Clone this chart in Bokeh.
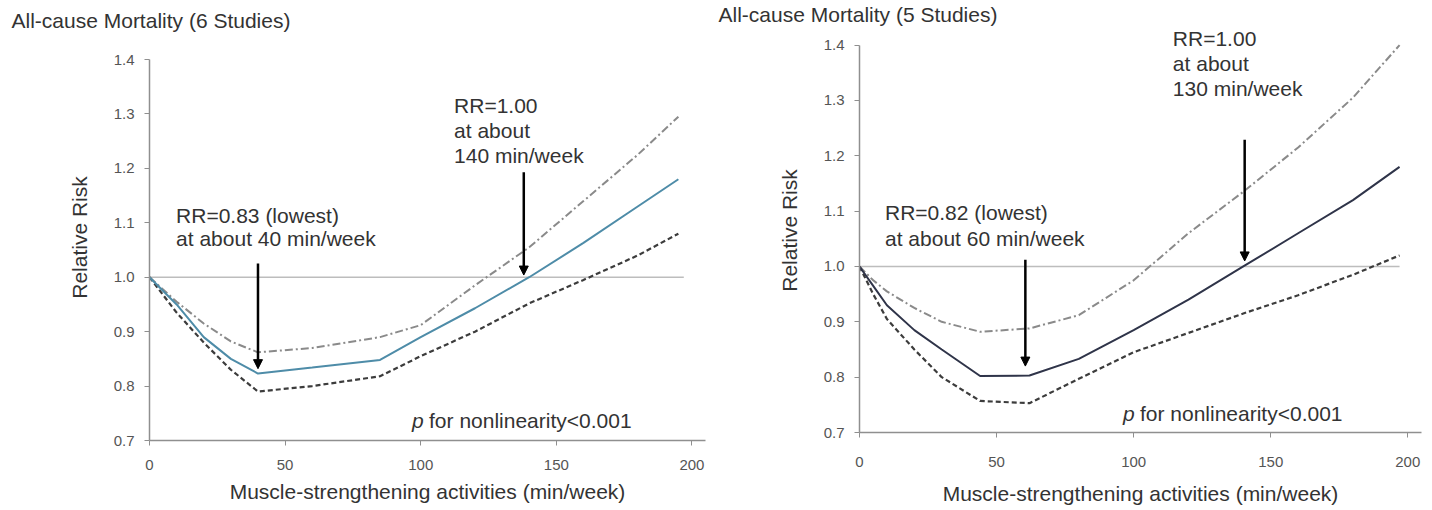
from bokeh.plotting import figure
from bokeh.layouts import row
from bokeh.models import Label, Arrow, NormalHead, Range1d, FixedTicker, NumeralTickFormatter
from bokeh.embed import file_html
from bokeh.resources import INLINE

# ---------------- data ----------------
left_x = [0, 10, 20, 30, 40, 60, 85, 100, 120, 140, 160, 180, 195]
left_rr = [1.0, 0.95, 0.89, 0.85, 0.823, 0.834, 0.848, 0.89, 0.943, 1.0, 1.063, 1.13, 1.18]
left_upper = [1.0, 0.955, 0.915, 0.882, 0.862, 0.87, 0.89, 0.912, 0.985, 1.055, 1.14, 1.225, 1.295]
left_lower = [1.0, 0.935, 0.88, 0.83, 0.79, 0.8, 0.818, 0.855, 0.9, 0.952, 0.995, 1.04, 1.08]

right_x = [0, 5, 10, 20, 30, 44, 62, 80, 100, 120, 140, 160, 180, 197]
right_rr = [1.0, 0.965, 0.93, 0.885, 0.85, 0.802, 0.803, 0.833, 0.885, 0.94, 1.0, 1.06, 1.12, 1.18]
right_upper = [1.0, 0.975, 0.955, 0.925, 0.9, 0.882, 0.888, 0.912, 0.975, 1.06, 1.135, 1.215, 1.305, 1.4]
right_lower = [1.0, 0.95, 0.905, 0.85, 0.8, 0.757, 0.753, 0.797, 0.845, 0.88, 0.915, 0.948, 0.985, 1.02]

x_ticks = [0, 50, 100, 150, 200]
y_ticks = [0.7, 0.8, 0.9, 1.0, 1.1, 1.2, 1.3, 1.4]

left_title = "All-cause Mortality (6 Studies)"
right_title = "All-cause Mortality (5 Studies)"
x_label = "Muscle-strengthening activities (min/week)"
y_label = "Relative Risk"

left_low_note = ["RR=0.83 (lowest)", "at about 40 min/week"]
left_one_note = ["RR=1.00", "at about", "140 min/week"]
right_low_note = ["RR=0.82 (lowest)", "at about 60 min/week"]
right_one_note = ["RR=1.00", "at about", "130 min/week"]
p_note = "for nonlinearity<0.001"

FONT = "Liberation Sans"
TXT = "#333333"


def panel(xs, rr, up, lo, solid_color, title, mb, ytop, title_cfg,
          low_note, low_pos, one_note, one_pos, arrows, p_pos):
    p = figure(width=716, height=510, output_backend="svg", toolbar_location=None,
               x_range=Range1d(0, 205), y_range=Range1d(0.7, ytop),
               min_border_left=mb[0], min_border_right=mb[1],
               min_border_top=mb[2], min_border_bottom=mb[3])
    p.frame_align = False
    p.outline_line_color = None
    p.xgrid.visible = False
    p.ygrid.visible = False
    p.title.text = title
    p.title.text_font = FONT
    p.title.text_font_size = "21px"
    p.title.text_font_style = "normal"
    p.title.text_color = TXT
    p.title.align = "left"
    p.title.vertical_align = "top"
    p.title.offset = title_cfg[0]
    p.title.standoff = title_cfg[1]
    for ax in (p.xaxis[0], p.yaxis[0]):
        ax.axis_line_color = "#8f8f8f"
        ax.axis_line_width = 1.5
        ax.major_tick_line_color = "#8f8f8f"
        ax.major_tick_out = 5
        ax.major_tick_in = 0
        ax.minor_tick_line_color = None
        ax.major_label_text_font = FONT
        ax.major_label_text_font_size = "15px"
        ax.major_label_text_color = "#555555"
        ax.axis_label_text_font = FONT
        ax.axis_label_text_font_size = "21px"
        ax.axis_label_text_font_style = "normal"
        ax.axis_label_text_color = TXT
    p.xaxis.ticker = FixedTicker(ticks=x_ticks)
    p.yaxis.ticker = FixedTicker(ticks=y_ticks)
    p.yaxis.formatter = NumeralTickFormatter(format="0.0")
    p.yaxis.bounds = (0.7, 1.4)
    p.xaxis.axis_label = x_label
    p.yaxis.axis_label = y_label
    p.yaxis.major_label_standoff = 10
    p.yaxis.axis_label_standoff = 20
    p.xaxis.major_label_standoff = mb[4]
    p.xaxis.axis_label_standoff = mb[5]

    # reference line RR = 1.0
    p.line([0, 197], [1.0, 1.0], line_color="#bdbdbd", line_width=1.6)

    p.line(xs, up, line_color="#8a8a8a", line_width=2, line_dash="8 3 2 3")
    p.line(xs, lo, line_color="#3c3c3c", line_width=2.2, line_dash="5 3")
    p.line(xs, rr, line_color=solid_color, line_width=2)

    for (x0, y0, y1) in arrows:
        p.add_layout(Arrow(end=NormalHead(size=9, fill_color="black", line_color="black"),
                           x_start=x0, y_start=y0, x_end=x0, y_end=y1,
                           line_color="black", line_width=2.5))

    def lbl(x, y, t, style="normal", xoff=0):
        p.add_layout(Label(x=x, y=y, text=t, x_offset=xoff, text_font=FONT,
                           text_font_size="21px", text_color=TXT,
                           text_font_style=style, text_baseline="middle"))

    for i, t in enumerate(low_note):
        lbl(low_pos[0], low_pos[1] - i * low_pos[2], t)
    for i, t in enumerate(one_note):
        lbl(one_pos[0], one_pos[1] - i * one_pos[2], t)
    lbl(p_pos[0], p_pos[1], "p", style="italic")
    lbl(p_pos[0], p_pos[1], p_note, xoff=17)
    return p


p1 = panel(left_x, left_rr, left_upper, left_lower, "#4e8ca8", left_title,
           (149, 11, 34, 70, 14, 7), 1.446, (-138, 2),
           left_low_note, (9.8, 1.114, 0.043), left_one_note, (112.3, 1.316, 0.046),
           [(40, 1.025, 0.832), (138, 1.193, 1.004)], (96.8, 0.737))
p2 = panel(right_x, right_rr, right_upper, right_lower, "#2f3449", right_title,
           (143, 11, 28, 78, 19, 12), 1.43, (-141, 2),
           right_low_note, (9.3, 1.097, 0.047), right_one_note, (114.3, 1.412, 0.045),
           [(60.5, 1.012, 0.82), (140.5, 1.229, 1.01)], (96.1, 0.735))

layout = row(p1, p2)
open("out.html", "w").write(file_html(layout, INLINE))
